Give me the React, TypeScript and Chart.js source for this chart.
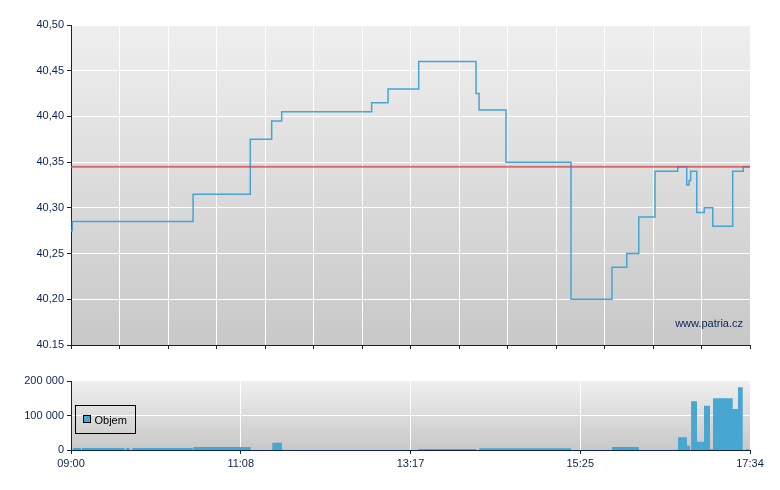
import React, { useEffect, useRef } from "react";
import { Chart, registerables } from "chart.js";

Chart.register(...registerables);

// ---- data (minutes after 09:00) ----
const sessionLength = 514; // 09:00 -> 17:34
const priceMinutes = [0, 1, 92.4, 135.7, 151.9, 159.5, 227.6, 240, 263.2, 306.6, 308.9, 329.3, 378.5, 409.5, 420.7, 429.8, 442.1, 459.3, 466.1, 467.9, 469.1, 473.7, 479.4, 485.8, 500.9, 508.9, 514];
const priceValues = [40.275, 40.285, 40.315, 40.375, 40.395, 40.405, 40.415, 40.43, 40.46, 40.425, 40.407, 40.35, 40.2, 40.235, 40.25, 40.29, 40.34, 40.345, 40.325, 40.33, 40.34, 40.295, 40.3, 40.28, 40.34, 40.345, 40.345];
const previousClose = 40.345;
const priceTicks = [40.15, 40.2, 40.25, 40.3, 40.35, 40.4, 40.45, 40.5];
const priceTickLabels = ["40.15", "40,20", "40,25", "40,30", "40,35", "40,40", "40,45", "40,50"];

const volumeLabel = "Objem";
const volStart = [1.5, 8.3, 41.6, 46.4, 92.6, 152.4, 262.9, 309.1, 409.5, 459.5, 466.3, 469.4, 473.9, 479.2, 483.7, 486, 500.9, 504.9, 511];
const volEnd = [7.6, 40.6, 44.4, 92.1, 136, 159.7, 306.6, 378.5, 429.9, 466.3, 468.6, 473.9, 479.2, 483.7, 486, 500.9, 504.9, 508.5, 513.5];
const volValue = [6000, 6000, 6000, 6000, 9000, 21000, 3000, 5000, 9000, 37000, 12000, 141000, 24000, 128000, 2000, 150000, 119000, 182000, 2000];
const volTicks = [0, 100000, 200000];
const volTickLabels = ["0", "100 000", "200 000"];
const timeTicks = [0, 128.5, 257, 385.5, 514];
const timeTickLabels = ["09:00", "11:08", "13:17", "15:25", "17:34"];
const watermark = "www.patria.cz";

const NAVY = "#0b2457";
const LINE_BLUE = "#45a5d4";
const BAR_BLUE = "#47a7d0";
const FONT = { family: "'Liberation Sans', Arial, sans-serif", size: 11 };

const gradientBg = {
  id: "gradientBg",
  beforeDraw(chart: any) {
    const { ctx, chartArea } = chart;
    if (!chartArea) return;
    const g = ctx.createLinearGradient(0, chartArea.top, 0, chartArea.bottom);
    g.addColorStop(0, "#efefef");
    g.addColorStop(1, "#c8c8c8");
    ctx.save();
    ctx.fillStyle = g;
    ctx.fillRect(chartArea.left, chartArea.top, chartArea.right - chartArea.left, chartArea.bottom - chartArea.top);
    ctx.restore();
  },
};

const watermarkPlugin = {
  id: "watermark",
  afterDatasetsDraw(chart: any) {
    const { ctx, chartArea } = chart;
    ctx.save();
    ctx.font = `11px ${FONT.family}`;
    ctx.fillStyle = NAVY;
    ctx.textAlign = "right";
    ctx.textBaseline = "middle";
    ctx.fillText(watermark, chartArea.right - 7, chartArea.bottom - 21);
    ctx.restore();
  },
};

const legendPlugin = {
  id: "boxLegend",
  afterDraw(chart: any) {
    const { ctx, chartArea } = chart;
    const x = chartArea.left + 4.5;
    const y = chartArea.top + 24.5;
    ctx.save();
    ctx.strokeStyle = "#000";
    ctx.lineWidth = 1;
    ctx.strokeRect(x, y, 60, 28);
    ctx.fillStyle = BAR_BLUE;
    ctx.fillRect(x + 8, y + 10, 7, 7);
    ctx.strokeRect(x + 8, y + 10, 7, 7);
    ctx.font = `11px ${FONT.family}`;
    ctx.fillStyle = "#000";
    ctx.textAlign = "left";
    ctx.textBaseline = "middle";
    ctx.fillText(chart.data.datasets[0].label, x + 19, y + 15);
    ctx.restore();
  },
};

export default function App() {
  const topRef = useRef<HTMLCanvasElement>(null);
  const botRef = useRef<HTMLCanvasElement>(null);

  useEffect(() => {
    const priceData = priceMinutes.map((m, i) => ({ x: m, y: priceValues[i] }));
    const refData = [
      { x: 0, y: previousClose },
      { x: sessionLength, y: previousClose },
    ];
    const topChart = new Chart(topRef.current!, {
      type: "line",
      data: {
        datasets: [
          {
            label: "Předchozí",
            data: refData,
            borderColor: "rgba(215,70,70,0.75)",
            borderWidth: 2,
            pointRadius: 0,
            fill: false,
          },
          {
            label: "Cena",
            data: priceData,
            stepped: true,
            borderColor: LINE_BLUE,
            borderWidth: 1.5,
            pointRadius: 0,
            fill: false,
          },
        ],
      },
      options: {
        animation: false,
        responsive: false,
        devicePixelRatio: 1,
        layout: { padding: { top: 25, right: 30, left: 0, bottom: 0 } },
        plugins: { legend: { display: false }, tooltip: { enabled: false } },
        scales: {
          x: {
            type: "linear",
            min: 0,
            max: sessionLength,
            afterBuildTicks: (s: any) => {
              s.ticks = Array.from({ length: 15 }, (_, i) => ({ value: (i * sessionLength) / 14 }));
            },
            afterFit: (s: any) => {
              s.height = 15;
            },
            ticks: { display: false },
            grid: { color: "#ffffff", tickColor: NAVY, tickLength: 4, lineWidth: 1 },
            border: { color: NAVY, width: 1 },
          },
          y: {
            type: "linear",
            min: 40.15,
            max: 40.5,
            afterBuildTicks: (s: any) => {
              s.ticks = priceTicks.map((v) => ({ value: v }));
            },
            afterFit: (s: any) => {
              s.width = 71;
            },
            ticks: {
              color: NAVY,
              font: FONT,
              padding: 3,
              callback: (_v: any, i: number) => priceTickLabels[i],
            },
            grid: { color: "#ffffff", tickColor: NAVY, tickLength: 4 },
            border: { color: NAVY, width: 1 },
          },
        },
      },
      plugins: [gradientBg, watermarkPlugin],
    } as any);

    const volData: { x: number; y: number }[] = [];
    volStart.forEach((s, i) => {
      volData.push({ x: s, y: volValue[i] });
      volData.push({ x: volEnd[i], y: 0 });
    });

    const botChart = new Chart(botRef.current!, {
      type: "line",
      data: {
        datasets: [
          {
            label: volumeLabel,
            data: volData,
            stepped: true,
            borderWidth: 0,
            borderColor: "rgba(0,0,0,0)",
            backgroundColor: BAR_BLUE,
            pointRadius: 0,
            fill: "origin",
          },
        ],
      },
      options: {
        animation: false,
        responsive: false,
        devicePixelRatio: 1,
        layout: { padding: { top: 21, right: 30, left: 0, bottom: 0 } },
        plugins: { legend: { display: false }, tooltip: { enabled: false } },
        scales: {
          x: {
            type: "linear",
            min: 0,
            max: sessionLength,
            afterBuildTicks: (s: any) => {
              s.ticks = timeTicks.map((v) => ({ value: v }));
            },
            afterFit: (s: any) => {
              s.height = 40;
            },
            ticks: {
              color: NAVY,
              font: FONT,
              padding: 3,
              maxRotation: 0,
              autoSkip: false,
              callback: (_v: any, i: number) => timeTickLabels[i],
            },
            grid: {
              color: (c: any) => (c.index > 0 && c.index < timeTicks.length - 1 ? "#ffffff" : "rgba(0,0,0,0)"),
              tickColor: NAVY,
              tickLength: 4,
            },
            border: { color: NAVY, width: 1 },
          },
          y: {
            type: "linear",
            min: 0,
            max: 200000,
            afterBuildTicks: (s: any) => {
              s.ticks = volTicks.map((v) => ({ value: v }));
            },
            afterFit: (s: any) => {
              s.width = 71;
            },
            ticks: {
              color: NAVY,
              font: FONT,
              padding: 3,
              callback: (_v: any, i: number) => volTickLabels[i],
            },
            grid: {
              color: (c: any) => (c.index === 1 ? "#ffffff" : "rgba(0,0,0,0)"),
              tickColor: NAVY,
              tickLength: 4,
            },
            border: { color: NAVY, width: 1 },
          },
        },
      },
      plugins: [gradientBg, legendPlugin],
    } as any);

    return () => {
      topChart.destroy();
      botChart.destroy();
    };
  }, []);

  return (
    <div style={{ position: "fixed", left: 0, top: 0, width: 780, height: 490, background: "#fff" }}>
      <canvas ref={topRef} width={780} height={360} style={{ position: "absolute", left: 0, top: 0, width: 780, height: 360 }} />
      <canvas ref={botRef} width={780} height={130} style={{ position: "absolute", left: 0, top: 360, width: 780, height: 130 }} />
    </div>
  );
}
